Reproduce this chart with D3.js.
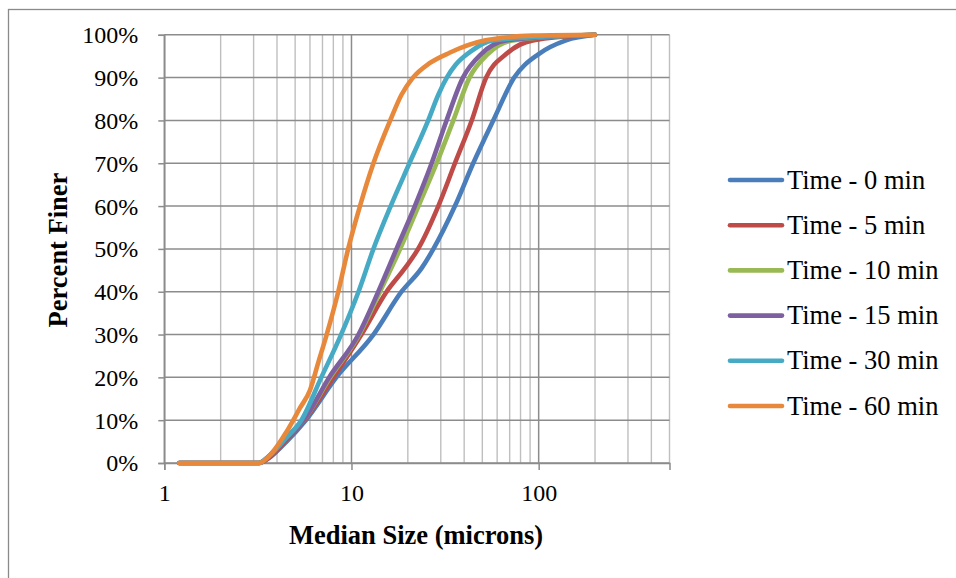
<!DOCTYPE html>
<html>
<head>
<meta charset="utf-8">
<script src="https://cdn.jsdelivr.net/npm/d3@7"></script>
<style>
  html, body { margin: 0; padding: 0; background: #fff; }
  svg { display: block; }
</style>
</head>
<body>
<svg id="chart" width="956" height="578"></svg>
<script>
// ---------- data ----------
const seriesNames = ["Time - 0 min", "Time - 5 min", "Time - 10 min", "Time - 15 min", "Time - 30 min", "Time - 60 min"];
const seriesColors = ["#4a7ebb", "#be4b48", "#98b954", "#7d60a0", "#46aac5", "#e8883a"];

const size0 = [1.2, 3.2, 3.7, 4.5, 5.7, 8.3, 13.1, 18.5, 23.7, 27.4, 35.7, 44.7, 57.2, 74, 100, 140, 200];
const pct0  = [0, 0, 1.5, 5, 10, 20, 30, 40, 45.5, 50, 60, 70, 80, 90, 95.5, 98.7, 100];

const size5 = [1.2, 3.2, 3.7, 4.5, 5.6, 8.0, 11.3, 15.4, 19.3, 22.7, 29.1, 35.7, 43.9, 52.4, 67, 93, 200];
const pct5  = [0, 0, 1.5, 5.5, 10, 20, 30, 40, 45.5, 50, 60, 70, 80, 90, 95.5, 98.7, 100];

const size10 = [1.2, 3.2, 3.6, 4.5, 5.55, 7.7, 11.0, 14.2, 18.2, 22.8, 28.5, 35.0, 42.7, 53.5, 72.6, 200];
const pct10  = [0, 0, 1.5, 6, 10, 20, 30, 40, 50, 60, 70, 80, 90, 95.5, 98.7, 100];

const size15 = [1.2, 3.2, 3.6, 4.5, 5.55, 7.6, 10.9, 13.9, 17.4, 21.8, 26.8, 32.2, 39.4, 49.3, 67, 200];
const pct15  = [0, 0, 1.5, 6, 10, 20, 30, 40, 50, 60, 70, 80, 90, 95.5, 98.7, 100];

const size30 = [1.2, 3.2, 3.5, 4.5, 5.4, 6.9, 8.8, 10.9, 13.1, 16.2, 20.4, 25.7, 29.1, 32.3, 36.0, 43, 57, 200];
const pct30  = [0, 0, 1, 6, 10, 20, 30, 40, 50, 60, 70, 80, 86, 90, 93, 96, 98.7, 100];

const size60 = [1.2, 3.2, 3.75, 4.5, 5.3, 6.0, 6.65, 7.37, 8.5, 9.6, 11.1, 13.1, 16.1, 18.5, 21.3, 26.0, 33.4, 52, 93, 200];
const pct60  = [0, 0, 2.3, 7.3, 12.8, 17, 23.5, 30, 40, 50, 60, 70, 80, 86, 90, 93.3, 95.8, 98.7, 99.8, 100];

const xTickLabels = [1, 10, 100];
const yTickValues = [0, 0.1, 0.2, 0.3, 0.4, 0.5, 0.6, 0.7, 0.8, 0.9, 1.0];

const xTitle = "Median Size (microns)";
const yTitle = "Percent Finer";

// ---------- build ----------
const seriesData = [
  [size0, pct0], [size5, pct5], [size10, pct10], [size15, pct15], [size30, pct30], [size60, pct60]
].map(([s, p], i) => ({
  name: seriesNames[i],
  color: seriesColors[i],
  points: s.map((v, j) => ({ x: v, y: p[j] / 100 }))
}));

const svg = d3.select("#chart");
const FONT = "'Liberation Serif', 'Times New Roman', serif";

// outer chart border
svg.append("rect")
  .attr("x", 8.5).attr("y", 9.5)
  .attr("width", 1000).attr("height", 1000)
  .attr("fill", "none").attr("stroke", "#8a8a8a").attr("stroke-width", 1.3);

const plotLeft = 164.3, plotRight = 669.5, plotTop = 34.8, plotBottom = 463;
const x = d3.scaleLog().domain([1, 500]).range([plotLeft, plotRight]);
const y = d3.scaleLinear().domain([0, 1]).range([plotBottom, plotTop]);

const grid = svg.append("g");
// minor/major vertical gridlines
const xGridVals = x.ticks();
xGridVals.forEach(v => {
  const isMajor = Math.abs(Math.log10(v) - Math.round(Math.log10(v))) < 1e-9;
  grid.append("line")
    .attr("x1", x(v)).attr("x2", x(v))
    .attr("y1", y(0)).attr("y2", y(1))
    .attr("stroke", isMajor ? "#8c8c8c" : "#bfbfbf")
    .attr("stroke-width", isMajor ? 1.5 : 1.4);
});
// horizontal gridlines
yTickValues.forEach(v => {
  grid.append("line")
    .attr("x1", x(1)).attr("x2", x(500))
    .attr("y1", y(v)).attr("y2", y(v))
    .attr("stroke", "#8c8c8c").attr("stroke-width", 1.5);
});

// axes
const yAxis = d3.axisLeft(y).tickValues(yTickValues).tickSize(6)
  .tickFormat(d3.format(".0%"));
const gy = svg.append("g").attr("transform", `translate(${plotLeft},0)`).call(yAxis);
gy.attr("font-family", FONT);
gy.select(".domain").attr("stroke", "#8c8c8c").attr("stroke-width", 1.5);
gy.selectAll(".tick line").attr("stroke", "#8c8c8c").attr("stroke-width", 1.5);
gy.selectAll(".tick text")
  .attr("font-family", FONT).attr("font-size", 24).attr("fill", "#000")
  .attr("x", -26).attr("dy", "0.33em");

const xAxis = d3.axisBottom(x).tickValues(xTickLabels).tickSize(7).tickFormat(d3.format("d"));
const gx = svg.append("g").attr("transform", `translate(0,${plotBottom})`).call(xAxis);
gx.attr("font-family", FONT);
gx.select(".domain").attr("stroke", "#8c8c8c").attr("stroke-width", 1.5);
gx.selectAll(".tick line").attr("stroke", "#8c8c8c").attr("stroke-width", 1.5);
gx.selectAll(".tick text")
  .attr("font-family", FONT).attr("font-size", 24).attr("fill", "#000")
  .attr("y", 38).attr("dy", 0);

// series lines
const line = d3.line()
  .x(d => x(d.x)).y(d => y(d.y))
  .curve(d3.curveMonotoneX);

svg.append("g").selectAll("path")
  .data(seriesData)
  .join("path")
  .attr("d", d => line(d.points))
  .attr("fill", "none")
  .attr("stroke", d => d.color)
  .attr("stroke-width", 4.6)
  .attr("stroke-linecap", "round")
  .attr("stroke-linejoin", "round");

// axis titles
svg.append("text")
  .attr("x", 416).attr("y", 544)
  .attr("text-anchor", "middle")
  .attr("font-family", FONT).attr("font-weight", "bold").attr("font-size", 26.5)
  .text(xTitle);

svg.append("text")
  .attr("transform", "translate(67,250) rotate(-90)")
  .attr("text-anchor", "middle")
  .attr("font-family", FONT).attr("font-weight", "bold").attr("font-size", 26.5)
  .text(yTitle);

// legend
const legend = svg.append("g");
const legY0 = 180, legStep = 45.2;
seriesData.forEach((s, i) => {
  const yy = legY0 + i * legStep;
  legend.append("line")
    .attr("x1", 730).attr("x2", 782)
    .attr("y1", yy).attr("y2", yy)
    .attr("stroke", s.color).attr("stroke-width", 4.6)
    .attr("stroke-linecap", "round");
  legend.append("text")
    .attr("x", 787).attr("y", yy + 8.6)
    .attr("font-family", FONT).attr("font-size", 26.5).attr("fill", "#000")
    .text(s.name);
});
</script>
</body>
</html>
